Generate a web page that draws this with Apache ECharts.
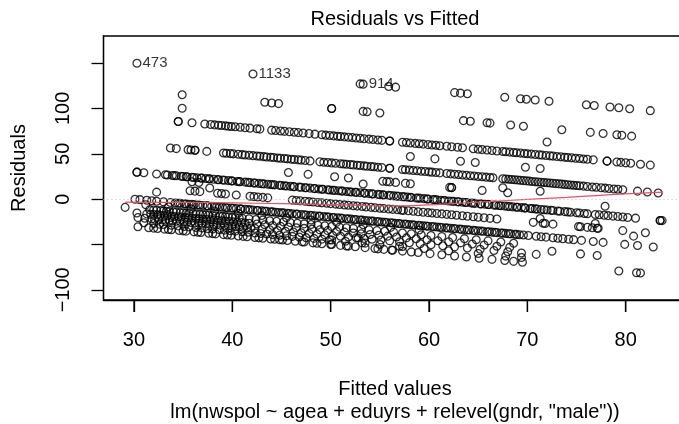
<!DOCTYPE html>
<html>
<head>
<meta charset="utf-8">
<script src="https://cdn.jsdelivr.net/npm/echarts@6/dist/echarts.min.js"></script>
<style>
  html, body { margin: 0; padding: 0; background: #fff; }
  #chart { width: 679px; height: 424px; }
</style>
</head>
<body>
<div id="chart"></div>
<script>
// Fitted values of the observations, grouped by their observed nwspol (minutes).
const fit0 = [30.4,31.5,32.0,32.4,33.1,33.5,33.8,34.6,35.0,35.3,36.1,36.5,36.8,37.6,38.0,38.3,39.1,39.5,39.9,40.6,41.1,41.5,42.3,42.7,43.1,43.9,44.3,44.8,45.1,45.6,46.4,47.1,47.3,48.2,48.6,49.1,50.0,50.1,51.0,51.6,51.8,52.5,53.5,54.5,54.8,55.4,56.2,56.3,57.3,58.2,58.9,60.1,61.3,62.6,63.8,65.1,66.4,67.7,68.6,69.5,79.3,81.1,81.5];
const fit5 = [31.0,32.0,32.6,33.0,33.8,34.5,35.1,35.6,36.3,36.9,37.5,38.0,38.7,39.2,39.8,40.3,41.0,41.6,42.3,42.9,43.5,44.1,44.8,45.5,46.1,46.8,47.5,48.3,49.1,49.9,50.1,51.5,53.2,53.5,55.0,57.0,57.3,59.5,62.0,65.0,67.8,69.4];
const fit10 = [30.4,31.1,31.8,32.1,32.5,32.9,33.2,33.6,33.9,34.3,34.7,35.1,35.4,35.8,36.2,36.6,36.9,37.3,37.7,38.1,38.4,38.8,39.2,39.6,40.0,40.3,40.7,41.1,41.5,41.9,42.3,43.0,43.8,44.6,45.4,46.2,47.0,47.8,48.6,49.4,50.2,51.0,51.8,52.6,52.8,53.4,54.2,55.1,56.0,57.0,58.0,59.1,60.2,61.4,62.6,63.9,65.2,66.6,68.0,69.4,70.9];
const fit15 = [30.3,31.3,31.7,32.0,32.4,32.7,33.1,33.4,33.8,34.1,34.5,34.8,35.2,35.5,35.9,36.3,36.6,37.0,37.4,37.8,38.1,38.5,38.9,39.3,39.7,40.1,40.5,40.9,41.3,41.7,42.5,43.3,44.1,44.9,45.7,46.5,47.3,48.1,48.9,49.7,50.6,51.4,52.3,53.1,54.0,54.9,55.8,56.7,57.7,58.7,59.8,60.9,62.0,63.2,64.4,65.6,66.9,68.2,72.5,75.4,77.1];
const fit20 = [29.1,31.6,32.0,32.3,32.7,33.0,33.3,33.6,34.0,34.3,34.7,35.0,35.3,35.6,36.0,36.3,36.7,37.0,37.3,37.6,38.0,38.3,38.7,39.0,39.3,39.6,40.0,40.3,40.7,41.0,41.7,42.4,43.1,43.8,44.5,45.2,45.9,46.6,47.3,48.0,48.7,49.4,50.1,50.9,51.6,52.3,53.1,53.9,54.7,55.5,56.4,57.3,58.2,59.2,60.2,61.3,62.4,63.6,64.8,66.0,67.3,68.6];
const fit25 = [31.2,33.5,35.8,38.2,40.6,43.0,45.5,48.0,50.6,53.3,56.1,59.0];
const fit30 = [30.1,30.6,31.3,31.8,32.3,33.0,33.7,34.2,34.5,34.7,35.1,35.3,35.6,35.9,36.1,36.5,36.7,37.0,37.4,37.5,37.9,38.2,38.4,38.7,39.0,39.3,39.5,39.9,40.1,40.4,40.8,40.9,41.3,41.6,41.8,42.1,42.5,42.6,43.0,43.3,43.5,43.9,44.1,44.4,44.7,45.0,45.2,45.6,45.8,46.1,46.5,46.6,47.0,47.3,47.5,47.9,48.1,48.4,48.8,48.9,49.3,49.6,49.8,50.2,50.3,50.7,51.0,51.2,51.6,51.8,52.1,52.4,52.6,53.0,53.2,53.5,53.8,54.1,54.3,54.7,54.9,55.2,55.5,55.7,56.1,56.3,56.6,56.9,57.1,57.5,57.7,58.0,58.3,58.5,58.9,59.1,59.4,59.7,59.9,60.3,60.5,60.8,61.1,61.3,61.7,61.9,62.2,62.5,62.7,63.1,63.3,63.6,63.9,64.1,64.5,64.7,65.0,65.3,65.5,65.9,66.1,66.4,66.7,66.9,67.3,67.5,67.8,68.1,68.3,68.7,68.9,69.2,69.6,70.1,70.9,71.4,71.9,72.6,73.1,73.6,74.2,74.7,75.5,76.7,77.7,79.9,81.2,82.8];
const fit40 = [32.3,80.8];
const fit45 = [35.7,36.2,36.7,38.5,38.9,39.3,40.4,41.8,42.2,42.6,43.1,43.6,46.1,46.5,46.9,47.4,47.8,48.2,48.7,49.1,49.6,50.0,50.5,50.9,51.4,51.8,52.3,52.7,53.2,53.6,54.1,54.5,55.0,55.4,55.9,56.3,56.8,57.2,57.4,57.9,58.4,58.9,59.4,59.9,60.3,60.8,61.3,61.8,62.3,62.8,63.4,63.9,64.5,65.0,65.6,66.2,66.9,70.6,71.6,71.8,72.6,75.2,75.4,76.1,76.6,77.1,77.2,79.7,82.0];
const fit50 = [37.7,71.3,76.9];
const fit55 = [35.9,36.6];
const fit60 = [30.3,30.3,31.0,32.3,33.2,33.4,33.9,34.1,34.3,34.8,35.0,35.3,35.4,35.9,36.1,36.4,36.8,36.9,37.3,37.6,37.7,38.1,38.5,38.6,39.0,39.2,39.6,39.9,40.0,40.5,40.7,40.8,41.3,41.6,41.8,42.2,42.3,42.7,43.0,43.2,43.6,43.9,44.1,44.3,44.8,45.0,45.3,45.5,45.9,46.2,46.3,46.8,47.0,47.4,47.5,47.9,48.3,48.4,48.8,49.1,49.2,49.7,49.9,50.2,50.4,50.8,51.1,51.2,51.6,51.9,52.1,52.5,52.6,53.0,53.4,53.5,53.9,54.2,54.3,54.8,55.0,55.3,55.4,55.9,56.1,56.4,56.7,56.9,57.3,57.5,57.8,58.1,58.2,58.7,58.9,59.1,59.5,59.8,59.9,60.4,60.6,60.8,61.2,61.5,61.6,62.0,62.3,62.5,62.9,63.0,63.4,63.7,63.8,64.3,64.5,64.7,65.2,65.3,65.7,66.0,66.1,66.6,66.8,67.1,67.3,67.7,68.0,68.2,68.5,68.9,69.0,69.4,69.7,69.8,70.3,70.5,70.8,71.0,71.4,71.7,72.0,72.4,72.6,73.1,73.3,73.8,74.1,74.4,75.0,75.3,75.8,76.1,76.9,77.3,77.8,78.2,78.7,79.2,79.7,80.2,81.0,83.5,83.5,83.7];
const fit70 = [53.3,77.9];
const fit75 = [45.7,47.7,50.4,51.8,55.3,55.7,56.0,56.6,57.6,58.1,62.1,62.3,62.3,65.4,68.0];
const fit80 = [67.5,71.3];
const fit90 = [33.7,34.3,35.5,35.8,36.2,36.2,37.4,39.1,39.4,39.8,40.1,40.6,41.0,41.3,41.7,42.1,42.5,42.8,43.2,43.5,43.9,44.2,44.6,44.9,45.3,45.6,46.0,46.3,46.7,47.0,47.4,47.9,48.9,49.3,49.7,50.1,50.5,51.0,51.3,51.6,52.0,52.3,52.7,53.0,53.4,53.7,54.1,54.4,54.8,55.2,56.0,56.0,57.3,57.6,58.0,58.4,58.8,59.2,59.6,60.0,60.3,60.7,61.1,61.8,62.2,62.6,63.0,63.4,63.8,64.2,64.6,65.0,65.4,65.8,66.2,66.5,67.5,67.8,68.1,68.4,68.7,69.0,69.3,69.6,69.9,70.2,70.5,70.8,71.1,71.4,71.7,72.0,72.3,72.6,72.9,73.2,73.5,73.8,74.1,74.4,74.7,75.0,75.3,75.7,76.1,76.6,77.0,77.5,77.9,78.3,78.8,79.2,79.7,81.2,82.2,83.3];
const fit105 = [58.1,60.6,63.2,64.7,69.8,71.3];
const fit120 = [34.5,34.5,35.9,37.2,37.8,38.2,38.6,38.9,39.3,39.6,39.9,40.3,40.8,41.3,41.8,42.5,42.8,44.0,44.4,44.9,45.3,45.8,46.3,46.7,47.2,47.8,48.4,49.1,49.5,49.9,50.3,50.7,51.0,51.4,51.8,52.2,52.6,53.0,53.4,53.9,54.3,54.8,55.2,56.0,56.0,57.3,57.7,58.1,58.6,59.0,59.4,59.9,60.3,60.7,61.1,61.8,62.3,62.9,63.4,64.5,65.0,65.4,65.9,66.4,66.9,67.5,67.8,68.2,68.6,68.9,69.3,69.7,70.0,70.4,70.8,71.2,71.5,71.9,72.3,72.6,73.0,73.4,73.8,74.1,74.5,74.9,75.3,75.7,76.1,76.7,78.1,78.1,79.1,79.5,80.0,80.5,81.5,82.5];
const fit135 = [34.9,72.0];
const fit150 = [34.9,43.3,44.0,44.7,50.1,50.1,53.3,53.7,55.0,63.5,64.2,65.9,66.2,68.3,69.6,73.5,76.4,77.7,79.1,79.6,80.6];
const fit180 = [53.0,55.9,56.6,62.6,63.2,63.9,67.7,69.3,69.9,70.8,72.2,76.0,76.8,78.4,79.3,80.4,82.5];

const bands = [
  [0, fit0], [5, fit5], [10, fit10], [15, fit15], [20, fit20], [25, fit25],
  [30, fit30], [40, fit40], [45, fit45], [50, fit50], [55, fit55], [60, fit60],
  [70, fit70], [75, fit75], [80, fit80], [90, fit90], [105, fit105], [120, fit120],
  [135, fit135], [150, fit150], [180, fit180]
];

// The three most extreme residuals, labelled by observation number.
const idFitted = [30.3, 42.1, 53.3];
const idObserved = [180, 180, 180];
const idNames = ['473', '1133', '914'];

// Smoothed trend of the residuals.
const smoothFitted = [29.1, 35, 40, 45, 50, 53, 56, 59, 62, 65, 68, 71, 74, 77, 80, 83.8];
const smoothResid = [-3.3, -3.7, -4.2, -5.0, -6.0, -6.8, -7.6, -7.0, -5.3, -3.3, -1.5, 0.2, 2.0, 3.9, 5.8, 7.7];

const xTicks = [30, 40, 50, 60, 70, 80];
const yTicks = [-100, -50, 0, 50, 100, 150];
const yTickLabels = [-100, 0, 50, 100];

const X_MIN = 26.9, X_MAX = 86.18, Y_MIN = -111.2, Y_MAX = 179.8;
const TICK_LEN = 12;

const resid = (obs, f) => [f, Math.round((obs - f) * 100) / 100];
const points = bands.flatMap(([obs, fits]) => fits.map(f => resid(obs, f)));
const idPoints = idFitted.map((f, i) => ({ value: resid(idObserved[i], f), name: idNames[i] }));
const smoothLine = smoothFitted.map((f, i) => [f, smoothResid[i]]);

const FONT = '"Liberation Sans", Arial, Helvetica, sans-serif';
const minus = v => String(v).replace('-', '\u2212');

const circleStyle = { color: 'rgba(0,0,0,0)', borderColor: '#000', borderWidth: 1.3 };

const chart = echarts.init(document.getElementById('chart'), null, { renderer: 'canvas' });
chart.setOption({
  animation: false,
  backgroundColor: '#fff',
  textStyle: { fontFamily: FONT, color: '#000' },
  title: {
    text: 'Residuals vs Fitted',
    left: 395, top: 9, padding: 0, textAlign: 'center',
    textStyle: { fontFamily: FONT, fontSize: 20, fontWeight: 'normal', color: '#000' }
  },
  grid: {
    left: 103.5, right: -7.5, top: 36, bottom: 124,
    outerBoundsMode: 'none',
    show: true, borderColor: '#000', borderWidth: 1.3, backgroundColor: 'transparent'
  },
  xAxis: {
    type: 'value', min: X_MIN, max: X_MAX, position: 'bottom',
    name: 'Fitted values\nlm(nwspol ~ agea + eduyrs + relevel(gndr, "male"))',
    nameLocation: 'middle', nameGap: 78,
    nameTextStyle: { fontFamily: FONT, fontSize: 20, color: '#000', lineHeight: 23 },
    axisLine: { show: true, onZero: false, lineStyle: { color: '#000', width: 1.3 } },
    splitLine: { show: false },
    axisTick: { show: true, length: TICK_LEN, customValues: xTicks, lineStyle: { color: '#000', width: 1.3 } },
    axisLabel: { customValues: xTicks, margin: 30, fontFamily: FONT, fontSize: 20, color: '#000' }
  },
  yAxis: {
    type: 'value', min: Y_MIN, max: Y_MAX, position: 'left',
    name: 'Residuals', nameLocation: 'middle', nameGap: 74,
    nameTextStyle: { fontFamily: FONT, fontSize: 20, color: '#000' },
    axisLine: { show: true, onZero: false, lineStyle: { color: '#000', width: 1.3 } },
    splitLine: { show: false },
    axisTick: { show: true, length: TICK_LEN, customValues: yTicks, lineStyle: { color: '#000', width: 1.3 } },
    axisLabel: { customValues: yTickLabels, rotate: 90, margin: 30, fontFamily: FONT, fontSize: 20, color: '#000', formatter: minus }
  },
  series: [
    {
      type: 'scatter',
      data: points,
      symbol: 'circle', symbolSize: 7.8,
      itemStyle: circleStyle,
      progressive: 0, large: false, silent: true,
      emphasis: { disabled: true },
      markLine: {
        silent: true, symbol: 'none', label: { show: false },
        lineStyle: { color: '#bebebe', type: [1, 3], width: 1 },
        data: [{ yAxis: 0 }]
      }
    },
    {
      type: 'scatter',
      data: idPoints,
      symbol: 'circle', symbolSize: 7.8,
      itemStyle: circleStyle,
      silent: true,
      label: {
        show: true, position: 'right', distance: 1,
        formatter: p => p.name,
        fontFamily: FONT, fontSize: 15, color: '#000'
      }
    },
    {
      type: 'line',
      data: smoothLine,
      smooth: 0.3, showSymbol: false, symbol: 'none', silent: true,
      lineStyle: { color: '#DF536B', width: 1.2 }
    },
    {
      // outward tick marks under the frame, placed by the x scale
      type: 'custom',
      data: xTicks.map(v => [v, Y_MIN]),
      clip: false, silent: true, z: 10,
      renderItem: (params, api) => {
        const p = api.coord([api.value(0), api.value(1)]);
        return {
          type: 'line',
          shape: { x1: p[0], y1: p[1], x2: p[0], y2: p[1] + TICK_LEN },
          style: { stroke: '#000', lineWidth: 1.3 }
        };
      }
    }
  ]
});
</script>
</body>
</html>
